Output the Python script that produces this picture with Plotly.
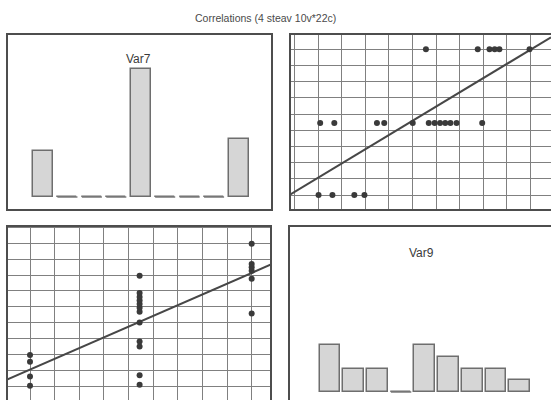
import numpy as np
import plotly.graph_objects as go

# ---------------- data ----------------
title_text = "Correlations (4 steav 10v*22c)"

# histogram of Var7 (9 bins)
var7_bins = [1, 2, 3, 4, 5, 6, 7, 8, 9]
var7_counts = [4, 0, 0, 0, 11, 0, 0, 0, 5]

# histogram of Var9 (9 bins)
var9_bins = [1, 2, 3, 4, 5, 6, 7, 8, 9]
var9_counts = [4, 2, 2, 0, 4, 3, 2, 2, 1]

# paired cases (22c)
var7 = [1, 1, 1, 1,
        5.45, 5.45, 5.45, 5.45, 5.45, 5.45, 5.45, 5.45, 5.45, 5.45, 5.45, 5.45,
        10, 10, 10, 10, 10, 10]
var9 = [0.01, 0.60, 1.53, 1.96,
        0.08, 0.68, 2.49, 2.80, 4.01, 4.69, 4.94, 5.17, 5.39, 5.61, 5.87, 6.96,
        4.57, 6.77, 7.27, 7.49, 7.69, 8.97]

# ---------------- layout helpers ----------------
W, H = 551, 400
def fx(p):
    return p / W
def fy(p):
    return 1 - p / H

FRAME = "#4d4d4d"
GRID = "#808080"
DOT = "#3a3a3a"
BAR_FILL = "#d6d6d6"
BAR_LINE = "#6e6e6e"
FONT = "Liberation Sans, Arial, sans-serif"

fig = go.Figure()

# ---- top-left: histogram Var7 ----
fig.add_trace(go.Bar(x=var7_bins, y=var7_counts, width=0.82,
                     marker=dict(color=BAR_FILL, line=dict(color=BAR_LINE, width=1.5)),
                     xaxis="x", yaxis="y", showlegend=False, hoverinfo="skip"))
zx, zy = [], []
for b, c in zip(var7_bins, var7_counts):
    if c == 0:
        zx += [b - 0.41, b + 0.41, None]
        zy += [0, 0, None]
fig.add_trace(go.Scatter(x=zx, y=zy, mode="lines", line=dict(color="#7a7a7a", width=1.5),
                         xaxis="x", yaxis="y", showlegend=False, hoverinfo="skip"))

# ---- top-right: scatter Var9 (x) vs Var7 (y) ----
x2_range = [-1.2017, 9.881]
s1, i1 = np.polyfit(var9, var7, 1)
fig.add_trace(go.Scatter(x=x2_range, y=[s1 * v + i1 for v in x2_range], mode="lines",
                         line=dict(color="#474747", width=2),
                         xaxis="x2", yaxis="y2", showlegend=False, hoverinfo="skip"))
fig.add_trace(go.Scatter(x=var9, y=var7, mode="markers",
                         marker=dict(color=DOT, size=6),
                         xaxis="x2", yaxis="y2", showlegend=False))

# ---- bottom-left: scatter Var7 (x) vs Var9 (y) ----
x3_range = [0.066, 10.785]
s2, i2 = np.polyfit(var7, var9, 1)
fig.add_trace(go.Scatter(x=x3_range, y=[s2 * v + i2 for v in x3_range], mode="lines",
                         line=dict(color="#474747", width=2),
                         xaxis="x3", yaxis="y3", showlegend=False, hoverinfo="skip"))
fig.add_trace(go.Scatter(x=var7, y=var9, mode="markers",
                         marker=dict(color=DOT, size=6),
                         xaxis="x3", yaxis="y3", showlegend=False))

# ---- bottom-right: histogram Var9 ----
fig.add_trace(go.Bar(x=var9_bins, y=var9_counts, width=0.87,
                     marker=dict(color=BAR_FILL, line=dict(color=BAR_LINE, width=1.5)),
                     xaxis="x4", yaxis="y4", showlegend=False, hoverinfo="skip"))
zx, zy = [], []
for b, c in zip(var9_bins, var9_counts):
    if c == 0:
        zx += [b - 0.43, b + 0.43, None]
        zy += [0, 0, None]
fig.add_trace(go.Scatter(x=zx, y=zy, mode="lines", line=dict(color="#7a7a7a", width=1.5),
                         xaxis="x4", yaxis="y4", showlegend=False, hoverinfo="skip"))

noax = dict(showgrid=False, zeroline=False, showline=False, showticklabels=False, ticks="")
gridax = dict(showgrid=True, gridcolor=GRID, gridwidth=1, zeroline=False, showline=False,
              showticklabels=False, ticks="", dtick=1, tick0=0)

ann = dict(xref="paper", yref="paper", showarrow=False, xanchor="center", yanchor="middle")

fig.update_layout(
    width=W, height=H,
    margin=dict(l=0, r=0, t=0, b=0),
    paper_bgcolor="white", plot_bgcolor="white",
    font=dict(family=FONT, color="#444444"),
    bargap=0,
    xaxis=dict(domain=[fx(7), fx(272)], range=[-0.473, 10.37], anchor="y", **noax),
    yaxis=dict(domain=[fy(210), fy(34)], range=[-1.12, 14.05], anchor="x", **noax),
    xaxis2=dict(domain=[fx(290), 1], range=x2_range, anchor="y2", **gridax),
    yaxis2=dict(domain=[fy(210), fy(34)], range=[0.0735, 10.944], anchor="x2", **gridax),
    xaxis3=dict(domain=[fx(7), fx(271)], range=x3_range, anchor="y3", **gridax),
    yaxis3=dict(domain=[0, fy(226)], range=[-0.883, 10.095], anchor="x3", **gridax),
    xaxis4=dict(domain=[fx(289), 1], range=[-0.73, 10.325], anchor="y4", **noax),
    yaxis4=dict(domain=[0, fy(226)], range=[-0.684, 14.19], anchor="x4", **noax),
    annotations=[
        dict(text=title_text, x=fx(265), y=fy(18), font=dict(size=10.5, color="#4a4a4a"), **ann),
        dict(text="Var7", x=fx(138.5), y=fy(59), font=dict(size=12, color="#3a3a3a"), **ann),
        dict(text="Var9", x=fx(421.7), y=fy(253), font=dict(size=12, color="#3a3a3a"), **ann),
    ],
    shapes=[
        dict(type="rect", xref="paper", yref="paper", x0=fx(7), x1=fx(272), y0=fy(210), y1=fy(34),
             line=dict(color=FRAME, width=2), layer="above"),
        dict(type="rect", xref="paper", yref="paper", x0=fx(290), x1=fx(600), y0=fy(210), y1=fy(34),
             line=dict(color=FRAME, width=2), layer="above"),
        dict(type="rect", xref="paper", yref="paper", x0=fx(7), x1=fx(271), y0=fy(450), y1=fy(226),
             line=dict(color=FRAME, width=2), layer="above"),
        dict(type="rect", xref="paper", yref="paper", x0=fx(289), x1=fx(600), y0=fy(450), y1=fy(226),
             line=dict(color=FRAME, width=2), layer="above"),
    ],
)

fig.write_html("out.html", config={"displayModeBar": False},
               post_script="document.body.style.margin='0';")
